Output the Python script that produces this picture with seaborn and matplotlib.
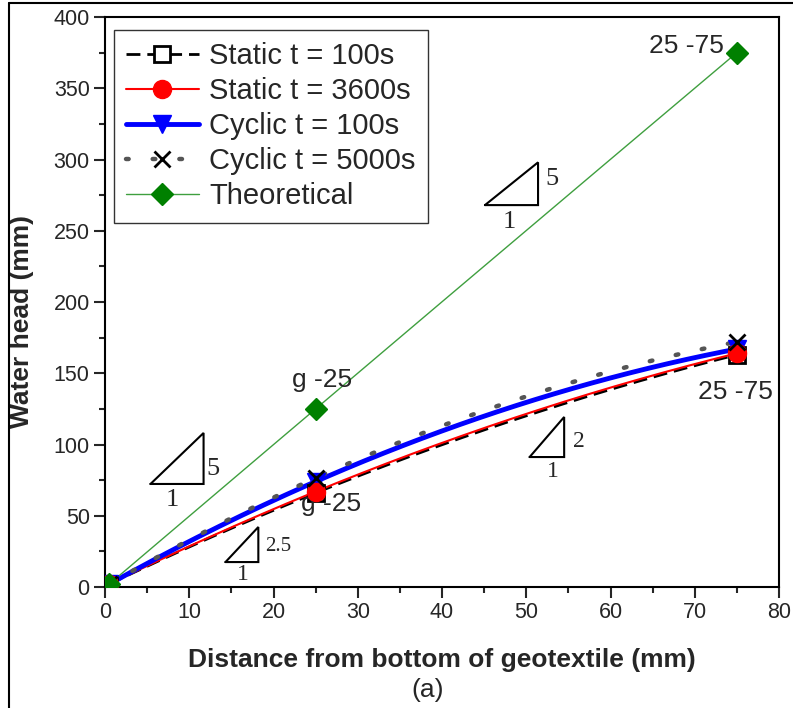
import numpy as np
import pandas as pd
import matplotlib
matplotlib.use("Agg")
import matplotlib.pyplot as plt
from matplotlib.lines import Line2D
import seaborn as sns

# ---------------- data ----------------
distance = [0.5, 25, 75]
static_100 = [2, 66, 163]
static_3600 = [2, 67, 164]
cyclic_100 = [2, 74, 167]
cyclic_5000 = [2, 76.5, 172]
theoretical = [2, 125, 375]

series_names = ["Static t = 100s", "Static t = 3600s", "Cyclic t = 100s",
                "Cyclic t = 5000s", "Theoretical"]
series_values = [static_100, static_3600, cyclic_100, cyclic_5000, theoretical]

x_ticks = [0, 10, 20, 30, 40, 50, 60, 70, 80]
y_ticks = [0, 50, 100, 150, 200, 250, 300, 350, 400]

# ---------------- style ----------------
sns.set_theme(style="white")
plt.rcParams["font.family"] = ["Liberation Sans", "DejaVu Sans"]
SANS = ["Liberation Sans", "DejaVu Sans"]
SERIF = ["Liberation Serif", "DejaVu Serif"]

styles = [
    dict(color="black", lw=2.0, dashes=(5, 2.5), marker="s", mfc="white",
         mec="black", ms=12, mew=2, z=3),
    dict(color="#ff0000", lw=1.5, dashes=None, marker="o", mfc="#ff0000",
         mec="#ff0000", ms=13, mew=1, z=5),
    dict(color="#0000ff", lw=3.5, dashes=None, marker="v", mfc="#0000ff",
         mec="#0000ff", ms=13, mew=1, z=4),
    dict(color="#555555", lw=3.2, dashes=(0.6, 5.4), marker="x", mfc="black",
         mec="black", ms=12, mew=2, z=6),
    dict(color="#3f9f3f", lw=1.0, dashes=None, marker="D", mfc="#008000",
         mec="#008000", ms=11, mew=1, z=6),
]

W, H = 793, 708
fig = plt.figure(figsize=(W / 100, H / 100), dpi=100)
ax_l, ax_r, ax_t, ax_b = 105, 779, 17, 587
ax = fig.add_axes([ax_l / W, 1 - ax_b / H, (ax_r - ax_l) / W, (ax_b - ax_t) / H])

# smooth (spline-like) curve through the three measured points
for name, vals, st in zip(series_names, series_values, styles):
    coef = np.polyfit(distance, vals, 2)
    xs = np.linspace(distance[0], distance[-1], 200)
    curve = pd.DataFrame({"x": xs, "y": np.polyval(coef, xs)})
    kw = dict(color=st["color"], lw=st["lw"], zorder=2)
    if st["dashes"] is not None:
        kw["dashes"] = st["dashes"]
        if st["marker"] == "x":
            kw["dash_capstyle"] = "round"
    sns.lineplot(data=curve, x="x", y="y", ax=ax, legend=False, **kw)

for name, vals, st in zip(series_names, series_values, styles):
    pts = pd.DataFrame({"x": distance, "y": vals})
    sns.lineplot(data=pts, x="x", y="y", ax=ax, legend=False, linestyle="none",
                 marker=st["marker"], markersize=st["ms"], markerfacecolor=st["mfc"],
                 markeredgecolor=st["mec"], markeredgewidth=st["mew"],
                 color=st["mec"], zorder=st["z"])

ax.set_xlim(0, 80)
ax.set_ylim(0, 400)
ax.set_xticks(x_ticks)
ax.set_yticks(y_ticks)
ax.set_xticks(np.arange(5, 80, 10), minor=True)
ax.set_yticks(np.arange(25, 400, 50), minor=True)
ax.tick_params(which="major", direction="out", length=8, width=1.5,
               bottom=True, left=True, top=False, right=False, pad=3)
ax.tick_params(which="minor", direction="out", length=4.5, width=1.5,
               bottom=True, left=True, top=False, right=False)
for lab in ax.get_xticklabels() + ax.get_yticklabels():
    lab.set_family(SANS)
    lab.set_fontsize(15.5)
for sp in ax.spines.values():
    sp.set_visible(True)
    sp.set_color("black")
    sp.set_linewidth(1.5)

ax.set_xlabel("Distance from bottom of geotextile (mm)", fontsize=19,
              fontweight="bold", family=SANS, va="center")
ax.xaxis.set_label_coords(0.5, -(660 - ax_b) / (ax_b - ax_t))
ax.set_ylabel("Water head (mm)", fontsize=19, fontweight="bold", family=SANS,
              va="center")
ax.yaxis.set_label_coords(-(ax_l - 22) / (ax_r - ax_l), (ax_b - 321) / (ax_b - ax_t))

fig.text(428 / W, 1 - 690 / H, "(a)", ha="center", va="center",
         fontsize=19, family=SANS)

# legend
handles = []
for name, st in zip(series_names, styles):
    h = Line2D([], [], color=st["color"], lw=st["lw"], marker=st["marker"],
               markersize=st["ms"], markerfacecolor=st["mfc"],
               markeredgecolor=st["mec"], markeredgewidth=st["mew"])
    if st["dashes"] is not None:
        h.set_dashes(st["dashes"])
        if st["marker"] == "x":
            h.set_dash_capstyle("round")
    handles.append(h)
leg = ax.legend(handles, series_names, loc="upper left",
                bbox_to_anchor=(0.013, 0.977), borderaxespad=0, fontsize=21,
                handlelength=2.5, handletextpad=0.35, labelspacing=0.24,
                borderpad=0.42, frameon=True, fancybox=False)
leg.get_frame().set_edgecolor("black")
leg.get_frame().set_linewidth(1.0)

# point annotations
ax.text(69.0, 380, "25 -75", ha="center", va="center", fontsize=19)
ax.text(25.8, 145, "g -25", ha="center", va="center", fontsize=19)
ax.text(26.8, 58, "g -25", ha="center", va="center", fontsize=19)
ax.text(74.8, 137, "25 -75", ha="center", va="center", fontsize=19)

# slope triangles
def tri(x0, x1, y0, y1):
    ax.plot([x0, x1, x1, x0], [y0, y0, y1, y0], color="black", lw=1.5,
            solid_joinstyle="miter", zorder=2)

tri(45.1, 51.4, 268, 298)
ax.text(53.0, 286, "5", fontsize=19, family=SERIF, ha="center", va="center")
ax.text(48.0, 256, "1", fontsize=19, family=SERIF, ha="center", va="center")

tri(5.4, 11.7, 72.3, 108.1)
ax.text(12.8, 83, "5", fontsize=19, family=SERIF, ha="center", va="center")
ax.text(8.0, 61, "1", fontsize=19, family=SERIF, ha="center", va="center")

tri(14.3, 18.2, 17.5, 42.1)
ax.text(19.0, 28.5, "2.5", fontsize=15, family=SERIF, ha="left", va="center")
ax.text(16.4, 8.5, "1", fontsize=17, family=SERIF, ha="center", va="center")

tri(50.4, 54.5, 91.2, 119.3)
ax.text(56.3, 102, "2", fontsize=17, family=SERIF, ha="center", va="center")
ax.text(53.2, 81, "1", fontsize=17, family=SERIF, ha="center", va="center")

# outer frame of the figure panel
fig.add_artist(Line2D([9 / W, 9 / W], [0, 1 - 3 / H], color="black", lw=1.5,
                      transform=fig.transFigure))
fig.add_artist(Line2D([9 / W, 1], [1 - 3 / H, 1 - 3 / H], color="black", lw=1.5,
                      transform=fig.transFigure))

fig.savefig("out.png", dpi=100)
